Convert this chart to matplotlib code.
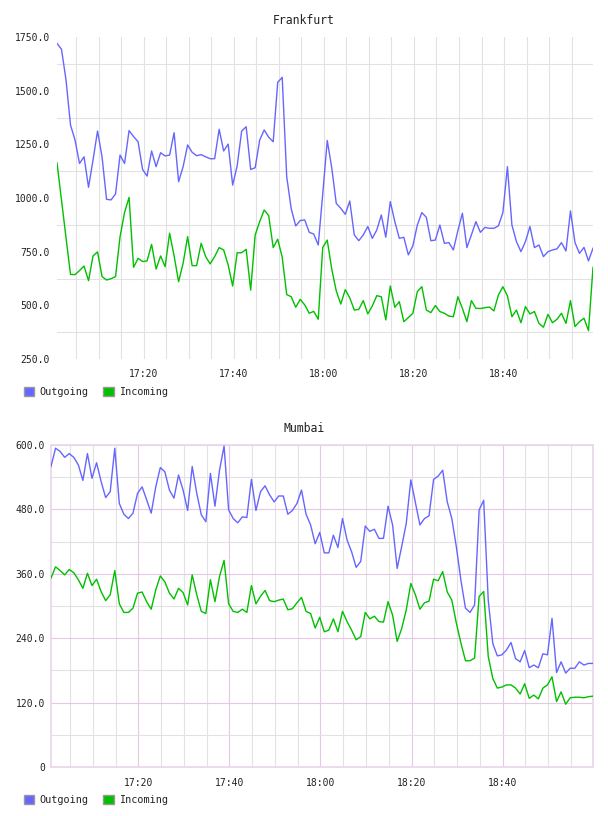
import matplotlib
matplotlib.use("Agg")
import matplotlib.pyplot as plt
import matplotlib.dates as mdates
from matplotlib.patches import Patch
from matplotlib.ticker import FixedLocator
import pandas as pd

# ---------------- data ----------------
frankfurt_start = "2013-05-01 17:00:45"
mumbai_start = "2013-05-01 17:00:50"

frankfurt_outgoing = [
    1720, 1693, 1550, 1340, 1270, 1161, 1192, 1050, 1177, 1312,
    1192, 994, 991, 1019, 1200, 1161, 1314, 1286, 1262, 1133,
    1102, 1219, 1146, 1211, 1196, 1200, 1304, 1076, 1146, 1247,
    1213, 1197, 1202, 1192, 1183, 1183, 1320, 1219, 1251, 1060,
    1150, 1312, 1332, 1133, 1141, 1270, 1317, 1283, 1262, 1539,
    1562, 1099, 950, 870, 895, 898, 840, 832, 781, 1020,
    1268, 1140, 975, 952, 924, 986, 828, 801, 828, 867,
    812, 851, 921, 817, 983, 890, 812, 817, 735, 777,
    874, 932, 910, 801, 804, 874, 789, 792, 758, 848,
    929, 769, 828, 890, 840, 863, 859, 859, 870, 933,
    1146, 874, 797, 750, 797, 867, 769, 781, 727, 750,
    758, 763, 792, 753, 940, 792, 742, 770, 707, 766,
]
frankfurt_incoming = [
    1164, 990, 815, 644, 643, 662, 683, 615, 730, 749,
    634, 618, 624, 634, 820, 933, 1003, 677, 719, 704,
    707, 784, 669, 730, 680, 836, 730, 610, 696, 820,
    685, 685, 789, 727, 693, 727, 769, 758, 688, 590,
    745, 745, 761, 571, 828, 890, 944, 918, 769, 808,
    724, 550, 540, 491, 528, 502, 463, 472, 435, 770,
    804, 668, 567, 506, 573, 535, 478, 481, 522, 460,
    497, 545, 540, 432, 590, 491, 517, 424, 443, 463,
    564, 587, 478, 466, 499, 471, 463, 450, 447, 540,
    486, 424, 522, 486, 485, 489, 492, 474, 548, 587,
    544, 447, 478, 419, 494, 460, 471, 416, 398, 458,
    419, 435, 463, 416, 522, 401, 424, 440, 382, 677,
]
mumbai_outgoing = [
    560, 594, 588, 577, 584, 577, 563, 534, 584, 538,
    567, 532, 502, 513, 594, 491, 471, 463, 473, 510,
    522, 498, 473, 522, 558, 550, 516, 501, 544, 516,
    478, 560, 510, 470, 457, 547, 486, 553, 598, 479,
    463, 455, 466, 465, 536, 478, 513, 524, 507, 494,
    505, 505, 471, 478, 491, 516, 471, 451, 416, 437,
    399, 399, 432, 409, 463, 423, 401, 372, 383, 449,
    439, 443, 426, 426, 486, 451, 370, 411, 454, 535,
    493, 451, 463, 468, 536, 542, 553, 494, 463, 410,
    348, 296, 288, 302, 479, 497, 311, 230, 207, 209,
    218, 232, 202, 196, 217, 185, 190, 185, 211, 209,
    277, 176, 196, 175, 184, 184, 196, 190, 193, 193,
]
mumbai_incoming = [
    352, 373, 366, 358, 368, 362, 349, 333, 361, 338,
    350, 327, 310, 321, 366, 304, 288, 288, 296, 324,
    326, 308, 294, 330, 356, 345, 324, 313, 333, 325,
    302, 358, 321, 290, 286, 349, 308, 355, 385, 304,
    290, 288, 294, 288, 338, 304, 318, 329, 310, 308,
    311, 313, 293, 295, 306, 316, 290, 286, 259, 279,
    252, 255, 276, 252, 290, 271, 255, 237, 243, 288,
    276, 281, 271, 270, 308, 283, 234, 258, 293, 342,
    321, 294, 306, 309, 350, 347, 364, 326, 311, 268,
    231, 198, 198, 203, 318, 327, 206, 165, 147, 149,
    153, 153, 147, 136, 155, 128, 134, 127, 147, 153,
    168, 122, 140, 117, 129, 130, 130, 129, 131, 132,
]

series_names = ["Outgoing", "Incoming"]
series_colors = ["#6666ff", "#00c000"]

frankfurt_title = "Frankfurt"
mumbai_title = "Mumbai"

frankfurt_yticks = [250, 500, 750, 1000, 1250, 1500, 1750]
frankfurt_yticklabels = ["250.0", "500.0", "750.0", "1000.0", "1250.0", "1500.0", "1750.0"]
frankfurt_ygrid = [375, 625, 875, 1125, 1375, 1625]

mumbai_yticks = [0, 120, 240, 360, 480, 600]
mumbai_yticklabels = ["0", "120.0", "240.0", "360.0", "480.0", "600.0"]
mumbai_yminor = [60, 180, 300, 420, 540]

# ---------------- style ----------------
MONO = ["DejaVu Sans Mono"]
TXT = "#222222"
GRID = "#e2e2e2"
PINK = "#e4c8e4"
W, H = 608, 816

fig = plt.figure(figsize=(W / 100, H / 100), dpi=100)
fig.patch.set_facecolor("white")

ax1 = fig.add_axes([57 / W, 1 - 359 / H, 536 / W, 322 / H])
ax2 = fig.add_axes([51 / W, 1 - 767 / H, 542 / W, 322 / H])

t1 = pd.date_range(frankfurt_start, periods=len(frankfurt_outgoing), freq="min")
t2 = pd.date_range(mumbai_start, periods=len(mumbai_outgoing), freq="min")

# ---- Frankfurt ----
ax1.plot(t1, frankfurt_outgoing, color=series_colors[0], lw=1.0, zorder=3)
ax1.plot(t1, frankfurt_incoming, color=series_colors[1], lw=1.0, zorder=3)
ax1.set_xlim(t1[0], t1[-1])
ax1.set_ylim(250, 1750)
ax1.yaxis.set_major_locator(FixedLocator(frankfurt_yticks))
ax1.set_yticklabels(frankfurt_yticklabels)
ax1.yaxis.set_minor_locator(FixedLocator(frankfurt_ygrid))
ax1.xaxis.set_major_locator(mdates.MinuteLocator(byminute=[0, 20, 40]))
ax1.xaxis.set_minor_locator(mdates.MinuteLocator(byminute=range(0, 60, 5)))
ax1.xaxis.set_major_formatter(mdates.DateFormatter("%H:%M"))
ax1.grid(which="minor", axis="y", color=GRID, lw=0.8)
ax1.grid(which="both", axis="x", color=GRID, lw=0.8)
ax1.set_axisbelow(True)
for s in ax1.spines.values():
    s.set_visible(False)
ax1.tick_params(axis="both", which="both", length=0, labelsize=7, labelcolor=TXT)
ax1.tick_params(axis="y", pad=5)
ax1.tick_params(axis="x", pad=7)

# ---- Mumbai ----
ax2.plot(t2, mumbai_outgoing, color=series_colors[0], lw=1.0, zorder=3)
ax2.plot(t2, mumbai_incoming, color=series_colors[1], lw=1.0, zorder=3)
ax2.set_xlim(t2[0], t2[-1])
ax2.set_ylim(0, 600)
ax2.yaxis.set_major_locator(FixedLocator(mumbai_yticks))
ax2.set_yticklabels(mumbai_yticklabels)
ax2.yaxis.set_minor_locator(FixedLocator(mumbai_yminor))
ax2.xaxis.set_major_locator(mdates.MinuteLocator(byminute=[0, 20, 40]))
ax2.xaxis.set_minor_locator(mdates.MinuteLocator(byminute=range(0, 60, 5)))
ax2.xaxis.set_major_formatter(mdates.DateFormatter("%H:%M"))
ax2.grid(which="minor", color=GRID, lw=0.8)
ax2.grid(which="major", color=PINK, lw=0.8)
ax2.set_axisbelow(True)
for s in ax2.spines.values():
    s.set_color("#ead8ea")
    s.set_linewidth(1.3)
ax2.tick_params(axis="both", which="both", length=0, labelsize=7, labelcolor=TXT)
ax2.tick_params(axis="y", pad=4.5)
ax2.tick_params(axis="x", pad=8)

for ax in (ax1, ax2):
    for lab in ax.get_xticklabels() + ax.get_yticklabels():
        lab.set_family(MONO)

# titles
fig.text(0.5, 1 - 20 / H, frankfurt_title, ha="center", va="center",
         fontsize=8.3, family=MONO, color=TXT)
fig.text(0.5, 1 - 429 / H, mumbai_title, ha="center", va="center",
         fontsize=8.3, family=MONO, color=TXT)

# legends
def add_legend(ypx):
    handles = [Patch(facecolor=c, edgecolor="#999999", lw=1.0) for c in series_colors]
    fig.legend(handles, series_names, loc="center left",
               bbox_to_anchor=(24 / W, 1 - ypx / H), ncol=2, frameon=False,
               prop={"family": MONO, "size": 7.3}, handlelength=1.0,
               handleheight=1.0, handletextpad=0.5, columnspacing=1.5,
               borderpad=0, borderaxespad=0, labelcolor=TXT)

add_legend(392)
add_legend(800)

fig.savefig("out.png", dpi=100, facecolor="white")
